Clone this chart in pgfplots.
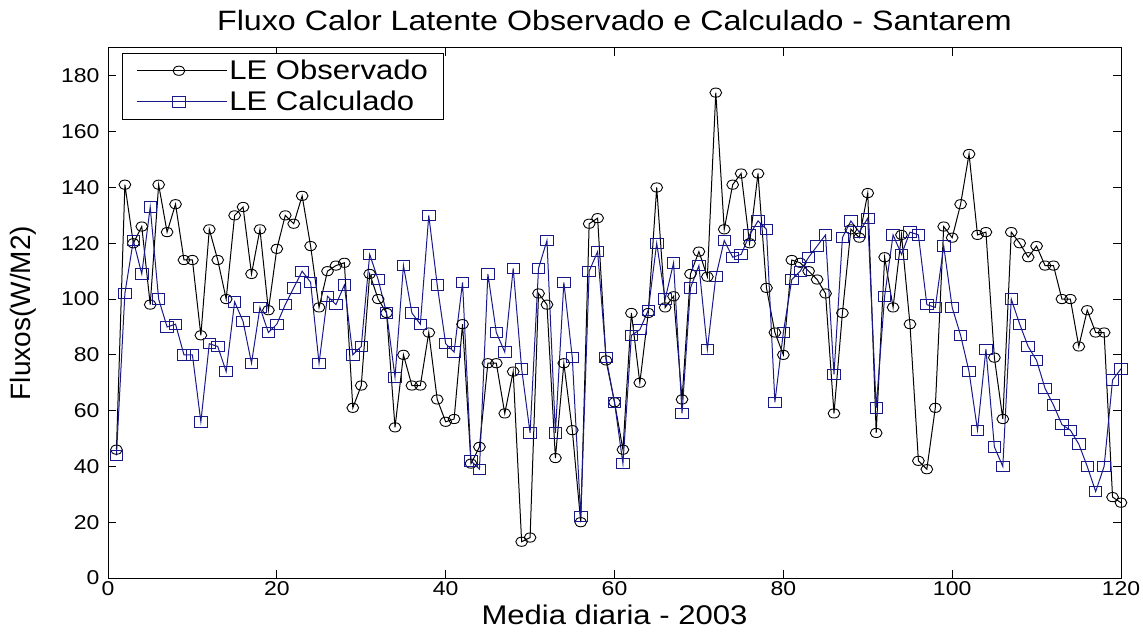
\documentclass[border=0pt]{standalone}
\usepackage{fontspec}
\setmainfont{Liberation Sans}[FakeStretch=1.15]
\newfontfamily\uprightsans{Liberation Sans}
\usepackage{pgfplots}
\pgfplotsset{compat=1.18}

\definecolor{obscol}{RGB}{0,0,0}
\definecolor{calccol}{RGB}{25,25,140}

% Daily means of latent heat flux, observed and calculated (W/m2)
\pgfplotstableread{
x y
1 46
2 141
3 120
4 126
5 98
6 141
7 124
8 134
9 114
10 114
11 87
12 125
13 114
14 100
15 130
16 133
17 109
18 125
19 96
20 118
21 130
22 127
23 137
24 119
25 97
26 110
27 112
28 113
29 61
30 69
31 109
32 100
33 95
34 54
35 80
36 69
37 69
38 88
39 64
40 56
41 57
42 91
43 41
44 47
45 77
46 77
47 59
48 74
49 13
50 14.5
51 102
52 98
53 43
54 77
55 53
56 20
57 127
58 129
59 78
60 63
61 46
62 95
63 70
64 95
65 140
66 97
67 101
68 64
69 109
70 117
71 108
72 174
73 125
74 141
75 145
76 120
77 145
78 104
79 88
80 80
81 114
82 113
83 110
84 107
85 102
86 59
87 95
88 125
89 122
90 138
91 52
92 115
93 97
94 123
95 91
96 42
97 39
98 61
99 126
100 122
101 134
102 152
103 123
104 124
105 79
106 57
107 124
108 120
109 115
110 119
111 112
112 112
113 100
114 100
115 83
116 96
117 88
118 88
119 29
120 27
}\observado

\pgfplotstableread{
x y
1 44
2 102
3 121
4 109
5 133
6 100
7 90
8 91
9 80
10 80
11 56
12 84
13 83
14 74
15 99
16 92
17 77
18 97
19 88
20 91
21 98
22 104
23 110
24 106
25 77
26 101
27 98
28 105
29 80
30 83
31 116
32 107
33 95
34 72
35 112
36 95
37 91
38 130
39 105
40 84
41 81
42 106
43 42
44 39
45 109
46 88
47 81
48 111
49 75
50 52
51 111
52 121
53 52
54 106
55 79
56 22
57 110
58 117
59 79
60 63
61 41
62 87
63 89
64 96
65 120
66 100
67 113
68 59
69 104
70 112
71 82
72 108
73 121
74 115
75 116
76 123
77 128
78 125
79 63
80 88
81 107
82 110
83 115
84 119
85 123
86 73
87 122
88 128
89 124
90 129
91 61
92 101
93 123
94 116
95 124
96 123
97 98
98 97
99 119
100 97
101 87
102 74
103 53
104 82
105 47
106 40
107 100
108 91
109 83
110 78
111 68
112 62
113 55
114 53
115 48
116 40
117 31
118 40
119 71
120 75
}\calculado

\begin{document}
\begin{tikzpicture}
\path[use as bounding box] (0,0) rectangle (1143pt,632pt);
\begin{axis}[
  at={(108pt,54pt)}, anchor=south west,
  scale only axis, width=1013pt, height=530pt,
  xmin=0, xmax=120, ymin=0, ymax=190,
  xtick={0,20,...,120}, ytick={0,20,...,180},
  tick align=inside, major tick length=8pt,
  axis line style={line width=1pt},
  tick style={line width=0.9pt, black},
  /pgf/number format/assume math mode=true,
  ticklabel style={font=\fontsize{20}{20}\selectfont},
  yticklabel style={xshift=-5pt},
  xlabel={Media diaria - 2003},
  ylabel={Fluxos(W/M2)},
  xlabel style={font=\fontsize{27}{27}\selectfont, at={(axis description cs:0.5,-0.069)}, anchor=center},
  ylabel style={font=\uprightsans\fontsize{28}{28}\selectfont, at={(axis description cs:-0.084,0.5)}, anchor=center},
  title={Fluxo Calor Latente Observado e Calculado - Santarem},
  title style={font=\fontsize{28}{28}\selectfont, at={(axis description cs:0.5,1.040)}, anchor=center},
  legend style={at={(0.0138,0.991)}, anchor=north west, draw=black, line width=0.9pt,
    font=\fontsize{27}{30}\selectfont, cells={anchor=west}, inner xsep=14pt, inner ysep=5pt,
    row sep=6pt},
  legend image code/.code={%
    \draw[mark repeat=2, mark phase=2, #1] plot coordinates {(0pt,0pt) (42pt,0pt) (84pt,0pt)};
    \path (0pt,0pt) -- (90pt,0pt);},
]
\addplot[obscol, line width=1pt, mark=o, mark size=4.6pt, mark options={xscale=1.28, line width=0.9pt}]
  table[x=x, y=y] {\observado};
\addlegendentry{LE Observado}
\addplot[calccol, line width=1pt, mark=square, mark size=5.2pt, mark options={xscale=1.2, line width=0.9pt}]
  table[x=x, y=y] {\calculado};
\addlegendentry{LE Calculado}
\end{axis}
\end{tikzpicture}
\end{document}
